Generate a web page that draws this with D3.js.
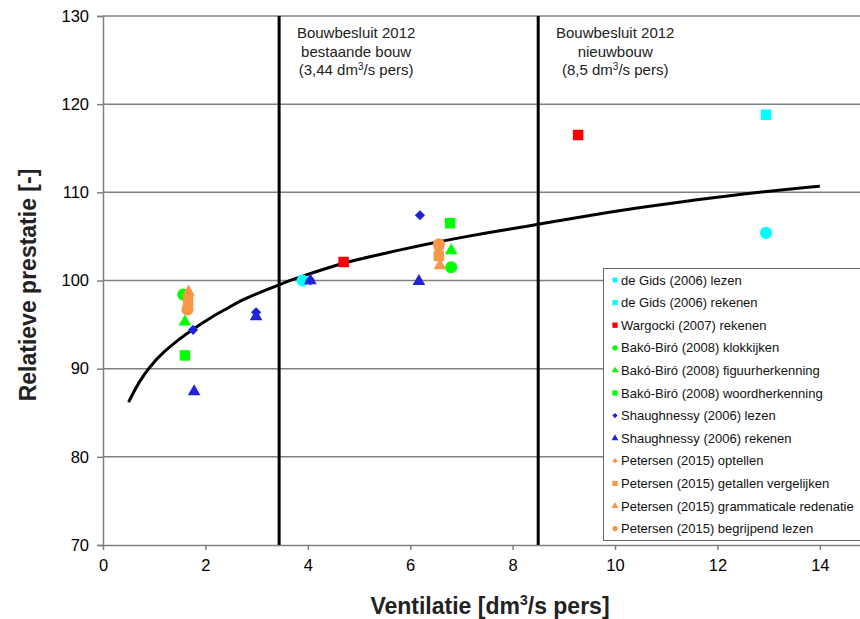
<!DOCTYPE html>
<html><head><meta charset="utf-8">
<script src="https://cdn.jsdelivr.net/npm/d3@7"></script>
<style>body{margin:0;background:#fff;} svg{display:block;font-family:"Liberation Sans",Arial,sans-serif;}</style>
</head><body>
<svg id="c" width="860" height="619"></svg>
<script>
// ---- data ----
const xTicks = [0, 2, 4, 6, 8, 10, 12, 14];
const yTicks = [70, 80, 90, 100, 110, 120, 130];
const curveX = [0.5, 0.7, 0.92, 1.2, 1.5, 1.76, 2.1, 2.48, 2.68, 3.0, 3.44, 3.65, 4.0, 4.43, 4.7, 5.5, 6.39, 7.0, 8.0, 8.54, 9.5, 10.5, 11.5, 12.5, 13.6, 14.0];
const curveY = [86.2, 88.5, 90.3, 92.0, 93.4, 94.5, 95.8, 97.0, 97.7, 98.5, 99.5, 100.0, 100.7, 101.5, 102.0, 103.1, 104.2, 104.9, 105.9, 106.4, 107.4, 108.3, 109.1, 109.8, 110.5, 110.7];
const refLinesX = [3.44, 8.5];
const seriesNames = ["de Gids (2006) lezen", "de Gids (2006) rekenen", "Wargocki (2007) rekenen",
  "Bakó-Biró (2008) klokkijken", "Bakó-Biró (2008) figuurherkenning", "Bakó-Biró (2008) woordherkenning",
  "Shaughnessy (2006) lezen", "Shaughnessy (2006) rekenen", "Petersen (2015) optellen",
  "Petersen (2015) getallen vergelijken", "Petersen (2015) grammaticale redenatie", "Petersen (2015) begrijpend lezen"];
const deGidsLezen = [[3.9, 100.0], [12.95, 105.4]];
const deGidsRekenen = [[12.95, 118.8]];
const wargockiRekenen = [[4.7, 102.1], [9.28, 116.5]];
const bakoKlok = [[1.57, 98.4], [6.8, 101.5]];
const bakoFiguur = [[1.6, 95.3], [6.8, 103.4]];
const bakoWoord = [[1.6, 91.5], [6.78, 106.5]];
const shaughLezen = [[1.76, 94.4], [2.99, 96.4], [4.05, 100.0], [6.19, 107.4]];
const shaughRekenen = [[1.78, 87.4], [2.99, 95.9], [4.05, 100.0], [6.17, 99.9]];
const petersenOptellen = [[1.67, 98.2], [6.56, 103.6]];
const petersenGetallen = [[1.66, 97.6], [6.56, 102.8]];
const petersenGrammatica = [[1.67, 98.7], [6.58, 101.7]];
const petersenBegrijpend = [[1.65, 96.7], [6.56, 104.1]];

const seriesData = [deGidsLezen, deGidsRekenen, wargockiRekenen, bakoKlok, bakoFiguur, bakoWoord,
  shaughLezen, shaughRekenen, petersenOptellen, petersenGetallen, petersenGrammatica, petersenBegrijpend];
const seriesColors = ["#00ffff", "#00ffff", "#ff0000", "#00ff00", "#00ff00", "#00ff00",
  "#2222dd", "#2222dd", "#f79646", "#f79646", "#f79646", "#f79646"];
const seriesShapes = ["circle", "square", "square", "circle", "triangle", "square",
  "diamond", "triangle", "diamond", "square", "triangle", "circle"];

// ---- chart ----
const svg = d3.select("#c");
const x = d3.scaleLinear().domain([0, 15]).range([103, 871]);
const y = d3.scaleLinear().domain([70, 130]).range([545, 16]);

const symType = {circle: d3.symbolCircle, square: d3.symbolSquare, triangle: d3.symbolTriangle, diamond: d3.symbolSquare};
const symSize = {circle: 115, square: 110, triangle: 70, diamond: 52};
const symRot = {circle: 0, square: 0, triangle: 0, diamond: 45};

// gridlines
svg.append("g").selectAll("line").data(yTicks.filter(v => v > 70)).join("line")
  .attr("x1", x(0)).attr("x2", 860).attr("y1", d => y(d)).attr("y2", d => y(d))
  .attr("stroke", "#808080").attr("stroke-width", 1.5);

// axes
const yAxis = svg.append("g").attr("transform", `translate(${x(0)},0)`)
  .call(d3.axisLeft(y).tickValues(yTicks).tickSize(6).tickPadding(8));
yAxis.select(".domain").attr("stroke", "#808080").attr("stroke-width", 1.5);
yAxis.selectAll(".tick line").attr("stroke", "#808080").attr("stroke-width", 1.5);
yAxis.selectAll("text").attr("font-size", 16.5).attr("fill", "#000").attr("font-family", "Liberation Sans, Arial");

const xAxis = svg.append("g").attr("transform", `translate(0,${y(70)})`)
  .call(d3.axisBottom(x).tickValues(xTicks).tickSize(5).tickPadding(9).tickSizeOuter(0));
xAxis.select(".domain").attr("stroke", "#808080").attr("stroke-width", 1.5);
xAxis.selectAll(".tick line").attr("stroke", "#808080").attr("stroke-width", 1.5);
xAxis.selectAll("text").attr("font-size", 16.5).attr("fill", "#000").attr("font-family", "Liberation Sans, Arial");

// reference lines
svg.append("g").selectAll("line").data(refLinesX).join("line")
  .attr("x1", d => x(d)).attr("x2", d => x(d)).attr("y1", y(130)).attr("y2", y(70))
  .attr("stroke", "#000").attr("stroke-width", 3);

// annotations
const ann = [
  {x: 3.44, lines: ["Bouwbesluit  2012", "bestaande bouw", ["(3,44 dm", "3", "/s pers)"]]},
  {x: 8.5, lines: ["Bouwbesluit  2012", "nieuwbouw", ["(8,5 dm", "3", "/s pers)"]]}
];
ann.forEach(a => {
  const cx = x(a.x) + 77;
  a.lines.forEach((l, i) => {
    const t = svg.append("text").attr("x", cx).attr("y", 38 + i * 18.5)
      .attr("text-anchor", "middle").attr("font-size", 15).attr("fill", "#222");
    if (typeof l === "string") t.text(l);
    else {
      t.append("tspan").text(l[0]);
      t.append("tspan").text(l[1]).attr("font-size", 10).attr("dy", -5);
      t.append("tspan").text(l[2]).attr("dy", 5);
    }
  });
});

// curve
const curvePts = curveX.map((v, i) => [v, curveY[i]]);
svg.append("path").datum(curvePts)
  .attr("d", d3.line().x(d => x(d[0])).y(d => y(d[1])).curve(d3.curveBasis))
  .attr("fill", "none").attr("stroke", "#000").attr("stroke-width", 3);

// points
seriesData.forEach((pts, si) => {
  const shape = seriesShapes[si];
  svg.append("g").selectAll("path").data(pts).join("path")
    .attr("transform", d => `translate(${x(d[0])},${y(d[1])}) rotate(${symRot[shape]})`)
    .attr("d", d3.symbol().type(symType[shape]).size(symSize[shape]))
    .attr("fill", seriesColors[si]);
});

// legend
const lg = svg.append("g");
lg.append("rect").attr("x", 603.5).attr("y", 268.5).attr("width", 300).attr("height", 272)
  .attr("fill", "#fff").attr("stroke", "#666").attr("stroke-width", 1);
const lsize = {circle: 22, square: 28, triangle: 20, diamond: 14};
seriesNames.forEach((n, i) => {
  const yy = 280 + i * 22.6;
  const shape = seriesShapes[i];
  lg.append("path").attr("transform", `translate(615,${yy}) rotate(${symRot[shape]})`)
    .attr("d", d3.symbol().type(symType[shape]).size(lsize[shape]))
    .attr("fill", seriesColors[i]);
  lg.append("text").attr("x", 621).attr("y", yy + 4.5).attr("font-size", 13).attr("fill", "#111").text(n);
});

// axis titles
const xt = svg.append("text").attr("x", 490).attr("y", 614).attr("text-anchor", "middle")
  .attr("font-size", 23).attr("font-weight", "bold").attr("fill", "#222");
xt.append("tspan").text("Ventilatie  [dm");
xt.append("tspan").text("3").attr("font-size", 14).attr("dy", -9);
xt.append("tspan").text("/s pers]").attr("dy", 9);

svg.append("text").attr("transform", "translate(36,285) rotate(-90)").attr("text-anchor", "middle")
  .attr("font-size", 23).attr("font-weight", "bold").attr("fill", "#222").text("Relatieve prestatie [-]");
</script>
</body></html>
